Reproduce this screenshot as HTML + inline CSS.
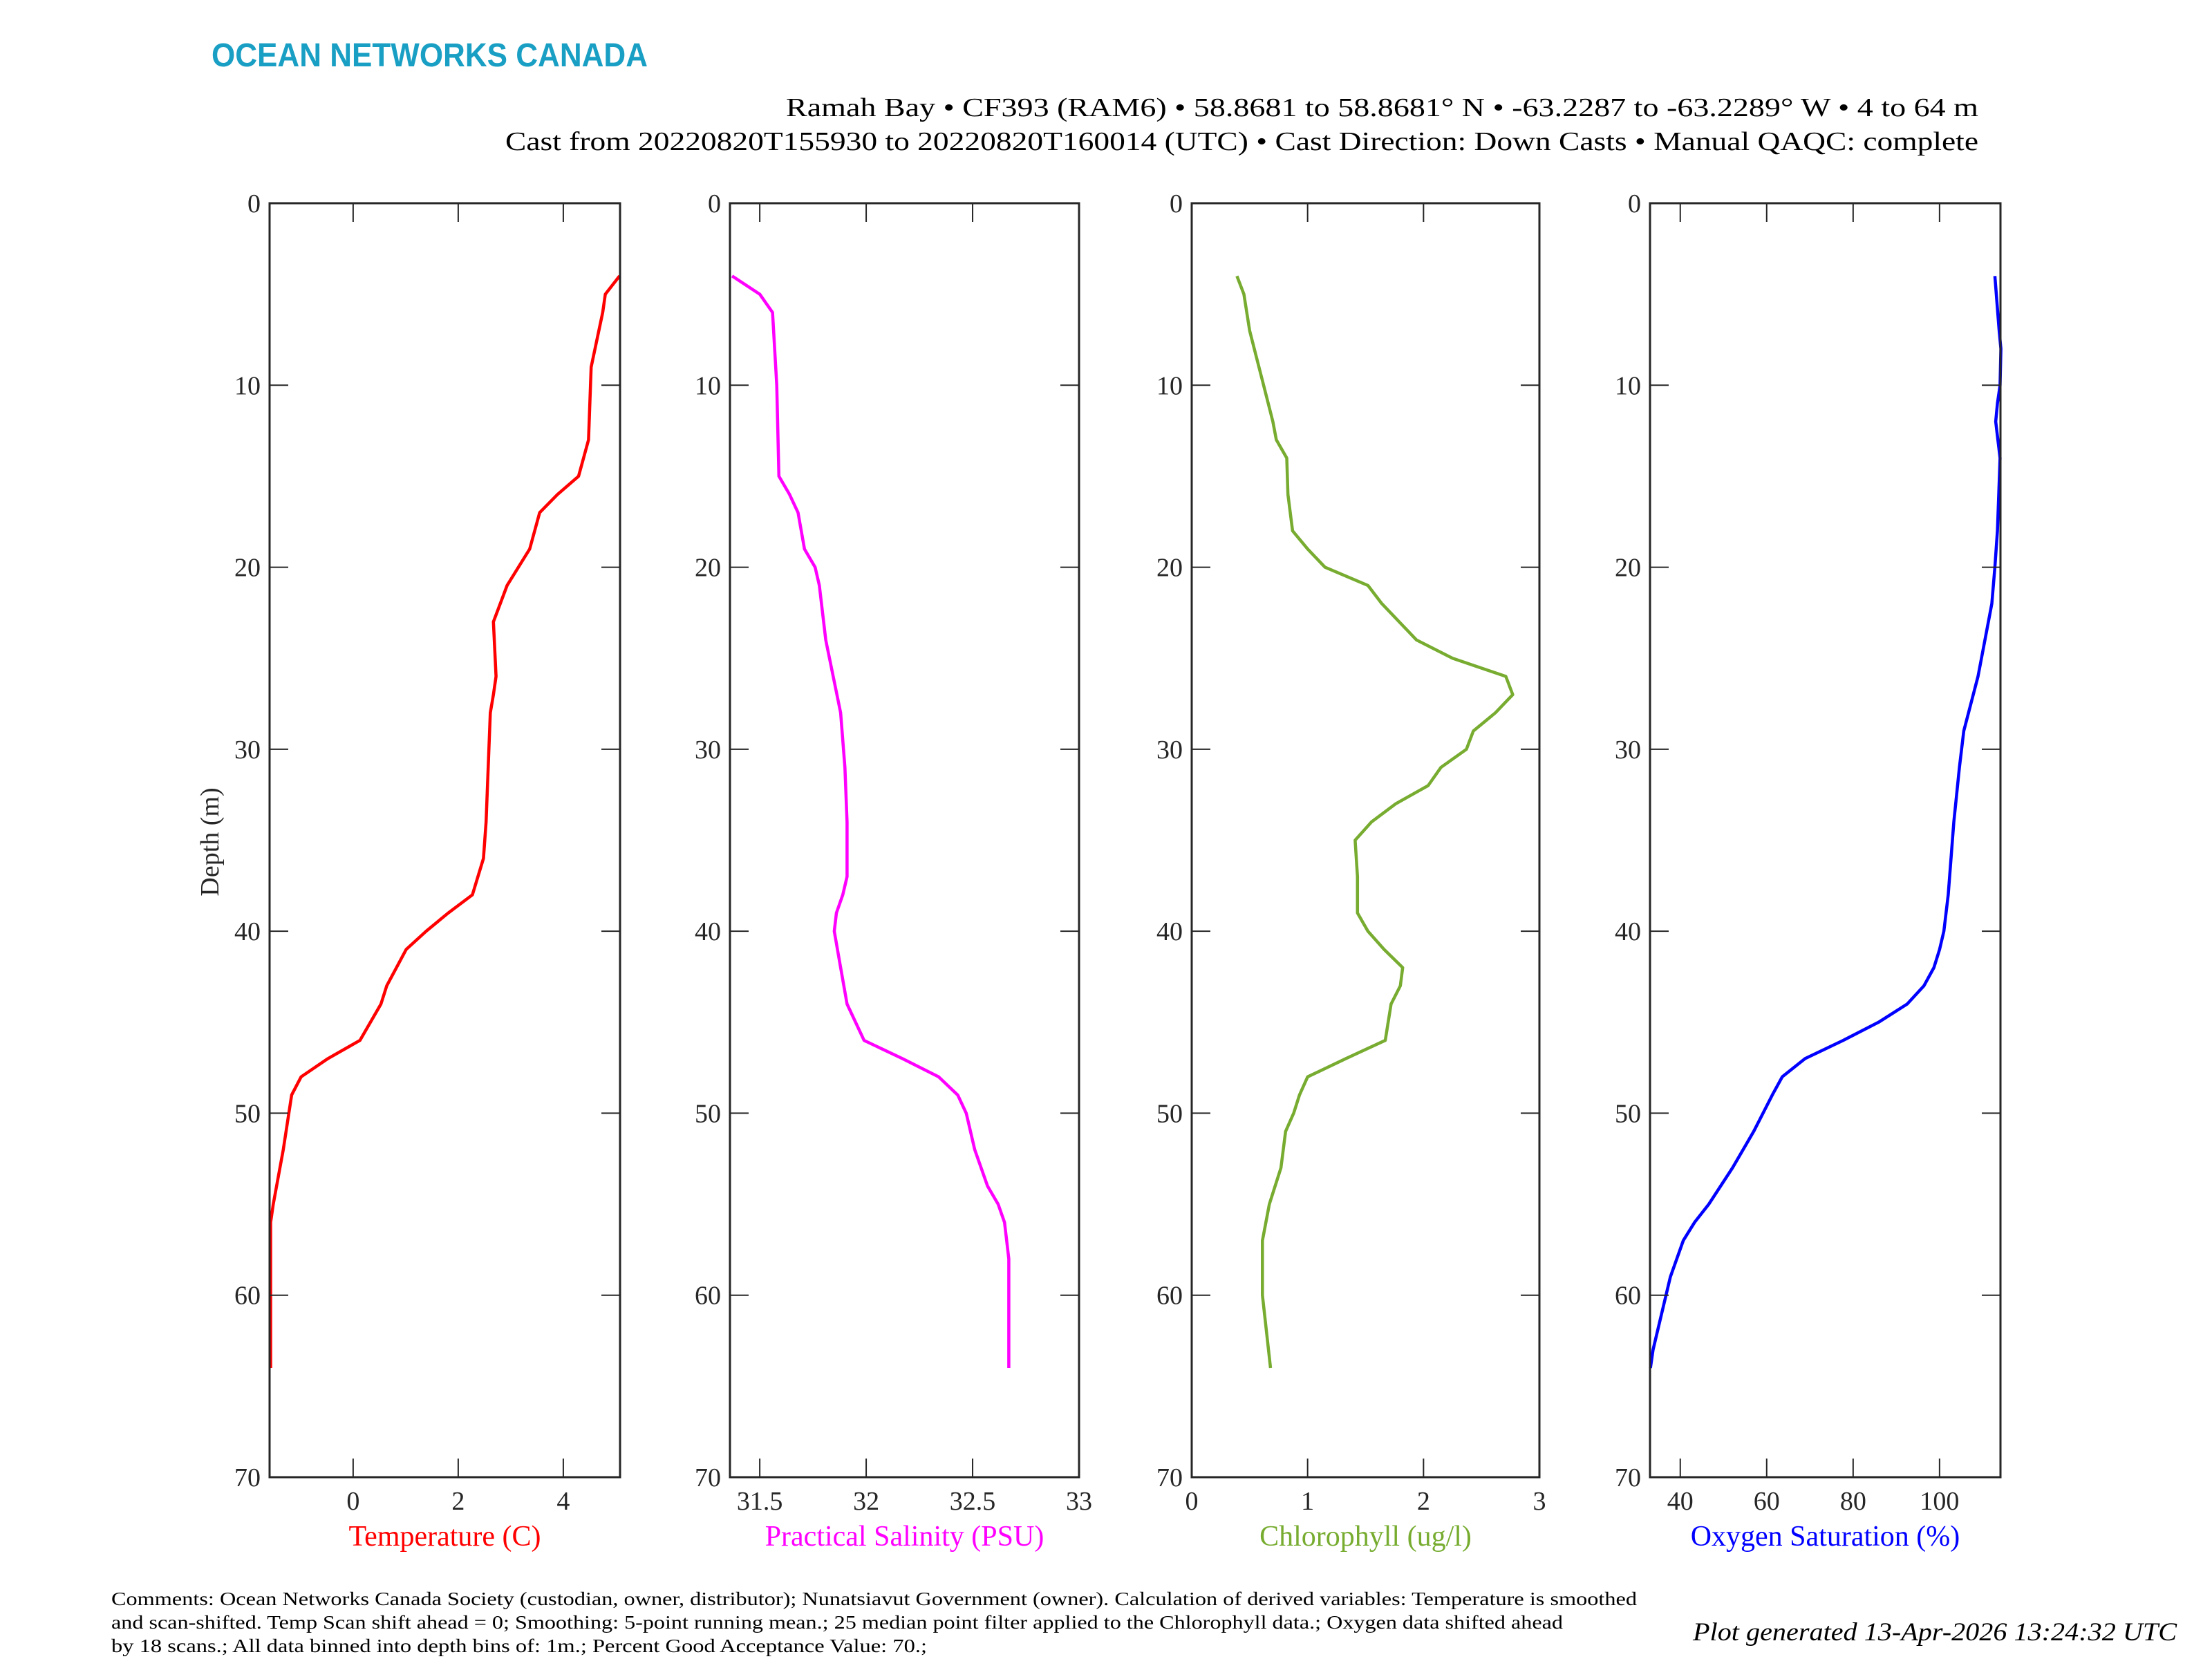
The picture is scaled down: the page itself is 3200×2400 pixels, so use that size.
<!DOCTYPE html>
<html><head><meta charset="utf-8"><style>
html,body{margin:0;padding:0;background:#fff;}
svg{display:block;}
</style></head><body>
<svg id="s" width="3200" height="2400" viewBox="0 0 3200 2400" xmlns="http://www.w3.org/2000/svg" font-family="'Liberation Serif', serif">
<text x="306" y="96" font-family="'Liberation Sans', sans-serif" font-weight="bold" font-size="48" fill="#1a9fc4" textLength="631" lengthAdjust="spacingAndGlyphs">OCEAN NETWORKS CANADA</text>
<text x="2862" y="168" font-size="38" text-anchor="end" textLength="1725" lengthAdjust="spacingAndGlyphs">Ramah Bay • CF393 (RAM6) • 58.8681 to 58.8681° N • -63.2287 to -63.2289° W • 4 to 64 m</text>
<text x="2862" y="217" font-size="38" text-anchor="end" textLength="2131" lengthAdjust="spacingAndGlyphs">Cast from 20220820T155930 to 20220820T160014 (UTC) • Cast Direction: Down Casts • Manual QAQC: complete</text>
<text transform="translate(316,1218) rotate(-90)" font-size="38" text-anchor="middle" fill="#262626">Depth (m)</text>
<g id="panels"></g>
<text x="161" y="2322" font-size="27" textLength="2207" lengthAdjust="spacingAndGlyphs">Comments: Ocean Networks Canada Society (custodian, owner, distributor); Nunatsiavut Government (owner). Calculation of derived variables: Temperature is smoothed</text>
<text x="161" y="2356" font-size="27" textLength="2100" lengthAdjust="spacingAndGlyphs">and scan-shifted. Temp Scan shift ahead = 0; Smoothing: 5-point running mean.; 25 median point filter applied to the Chlorophyll data.; Oxygen data shifted ahead</text>
<text x="161" y="2390" font-size="27" textLength="1180" lengthAdjust="spacingAndGlyphs">by 18 scans.; All data binned into depth bins of: 1m.; Percent Good Acceptance Value: 70.;</text>
<text x="3149" y="2373" font-size="37" font-style="italic" text-anchor="end" textLength="700" lengthAdjust="spacingAndGlyphs">Plot generated 13-Apr-2026 13:24:32 UTC</text>
</svg>
<script>
(function(){
var NS="http://www.w3.org/2000/svg";
var g=document.getElementById("panels");
function el(t,a,txt){var e=document.createElementNS(NS,t);for(var k in a)e.setAttribute(k,a[k]);if(txt!==undefined)e.textContent=txt;g.appendChild(e);return e;}
var yTop=294,yBot=2137;
function Y(d){return yTop+(yBot-yTop)*d/70;}
var P=[
{l:390,r:897,min:-1.59,max:5.08,ticks:[0,2,4],lab:["0","2","4"],col:"#ff0000",name:"Temperature (C)",
d:[[4,5.07],[5,4.8],[6,4.75],[9,4.53],[13,4.48],[15,4.29],[16,3.89],[17,3.55],[19,3.36],[21,2.93],[23,2.67],[26,2.72],[27,2.67],[28,2.61],[34,2.53],[36,2.48],[38,2.27],[39,1.81],[40,1.39],[41,1.01],[43,0.64],[44,0.53],[46,0.13],[47,-0.48],[48,-0.99],[49,-1.17],[52,-1.33],[55,-1.52],[56,-1.57],[64,-1.57]]},
{l:1056,r:1561,min:31.36,max:33,ticks:[31.5,32,32.5,33],lab:["31.5","32","32.5","33"],col:"#ff00ff",name:"Practical Salinity (PSU)",
d:[[4,31.37],[5,31.5],[6,31.56],[10,31.58],[15,31.59],[16,31.64],[17,31.68],[19,31.71],[20,31.76],[21,31.78],[24,31.81],[28,31.88],[31,31.9],[34,31.91],[37,31.91],[38,31.89],[39,31.86],[40,31.85],[42,31.88],[44,31.91],[46,31.99],[47,32.17],[48,32.34],[49,32.43],[50,32.47],[52,32.51],[54,32.57],[55,32.62],[56,32.65],[58,32.67],[64,32.67]]},
{l:1724,r:2227,min:0,max:3,ticks:[0,1,2,3],lab:["0","1","2","3"],col:"#77ac30",name:"Chlorophyll (ug/l)",
d:[[4,0.39],[5,0.45],[7,0.5],[8,0.54],[10,0.62],[12,0.7],[13,0.73],[14,0.82],[16,0.83],[18,0.87],[19,1.0],[20,1.15],[21,1.52],[22,1.64],[24,1.94],[25,2.25],[26,2.71],[27,2.77],[28,2.62],[29,2.43],[30,2.37],[31,2.15],[32,2.04],[33,1.76],[34,1.55],[35,1.41],[37,1.43],[39,1.43],[40,1.52],[41,1.66],[42,1.82],[43,1.8],[44,1.72],[46,1.67],[47,1.33],[48,1.0],[49,0.93],[50,0.88],[51,0.81],[53,0.77],[54,0.72],[55,0.67],[57,0.61],[60,0.61],[64,0.68]]},
{l:2387,r:2894,min:33,max:114.1,ticks:[40,60,80,100],lab:["40","60","80","100"],col:"#0000ff",name:"Oxygen Saturation (%)",
d:[[4,112.8],[7,113.8],[8,114.2],[10,114],[11,113.4],[12,113],[14,114],[18,113.4],[20,112.8],[22,112.1],[24,110.5],[26,108.9],[29,105.6],[31,104.6],[34,103.3],[38,102],[40,101],[41,100],[42,98.7],[43,96.4],[44,92.5],[45,85.9],[46,77.7],[47,68.9],[48,63.6],[49,61.3],[51,57],[53,52.1],[55,46.6],[56,43.3],[57,40.7],[59,37.7],[61,35.7],[63,33.7],[64,33.1]]}
];
P.forEach(function(p){
 function X(v){return p.l+(p.r-p.l)*(v-p.min)/(p.max-p.min);}
 var pts=p.d.map(function(q){return X(q[1]).toFixed(1)+","+Y(q[0]).toFixed(1);}).join(" ");
 el("polyline",{points:pts,fill:"none",stroke:p.col,"stroke-width":4.5,"stroke-linejoin":"round"});
 var tl=27,ax="#262626";
 for(var d=0;d<=70;d+=10){var y=Y(d);
  if(d>0&&d<70){el("line",{x1:p.l,y1:y,x2:p.l+tl,y2:y,stroke:ax,"stroke-width":2});el("line",{x1:p.r,y1:y,x2:p.r-tl,y2:y,stroke:ax,"stroke-width":2});}
  el("text",{x:p.l-13,y:y+13,"font-size":38,"text-anchor":"end",fill:ax},String(d));}
 p.ticks.forEach(function(t,i){var x=X(t);
  if(x>p.l+3&&x<p.r-3){el("line",{x1:x,y1:yBot,x2:x,y2:yBot-tl,stroke:ax,"stroke-width":2});el("line",{x1:x,y1:yTop,x2:x,y2:yTop+tl,stroke:ax,"stroke-width":2});}
  el("text",{x:x,y:2184,"font-size":38,"text-anchor":"middle",fill:ax},p.lab[i]);});
 el("rect",{x:p.l,y:yTop,width:p.r-p.l,height:yBot-yTop,fill:"none",stroke:ax,"stroke-width":3});
 el("text",{x:(p.l+p.r)/2,y:2236,"font-size":42,"text-anchor":"middle",fill:p.col},p.name);
});
})();
</script>
</body></html>
